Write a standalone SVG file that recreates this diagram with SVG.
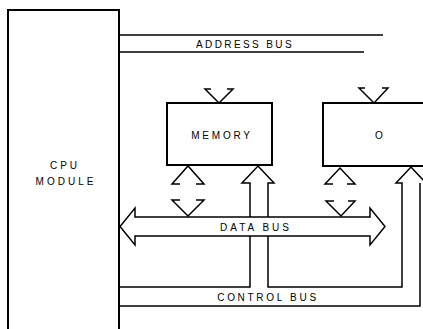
<svg xmlns="http://www.w3.org/2000/svg" width="423" height="329" viewBox="0 0 423 329">
<style>
.ln{fill:none;stroke:#000;stroke-width:1.5;stroke-linejoin:miter}
.bx{fill:none;stroke:#000;stroke-width:2}
.t{font-family:"Liberation Sans",Arial,sans-serif;font-size:10px;fill:#000;text-anchor:middle}
</style>
<rect width="423" height="329" fill="#fff"/>
<g id="cpu">
<path class="bx" d="M8,329 V10 H119 V329"/>
<text class="t" x="65" y="169" letter-spacing="3">CPU</text>
<text class="t" x="66" y="185" letter-spacing="3">MODULE</text>
</g>
<g id="memory">
<rect class="bx" x="167" y="103" width="105" height="62"/>
<text class="t" x="222" y="139" letter-spacing="2.8">MEMORY</text>
</g>
<g id="io">
<path class="bx" d="M424,103 H323 V166 H424"/>
<text class="t" x="379" y="139">O</text>
</g>
<g id="connectors">
<g id="address-bus">
<path class="ln" d="M119,35 H383 M119,52 H364"/>
<text class="t" x="245" y="48" letter-spacing="2.4">ADDRESS BUS</text>
<path class="ln" d="M211,89 H205 L219,103 L233,89 H227"/>
<path class="ln" d="M365,88 H359 L374,103 L388,88 H382"/>
</g>
<g id="data-bus">
<path class="ln" d="M135,217 V208 L120,226.5 L135,245 V236 H370 V245 L385,226.5 L370,208 V217 Z"/>
<text class="t" x="256" y="230.5" letter-spacing="3">DATA BUS</text>
<path class="ln" d="M180,184 H172 L188,166 L204,184 H196"/>
<path class="ln" d="M180,200 H172 L188,216 L204,200 H196"/>
<path class="ln" d="M333,184 H325 L340,168 L355,184 H347"/>
<path class="ln" d="M334,201 H326 L341,216 L355,201 H348"/>
</g>
<g id="control-bus">
<path class="ln" d="M119,287 H250 V236 M250,217 V183 H242 L258,166 L274,183 H268 V217 M268,236 V287 H402 V183 H396 L411,167 L426,183"/>
<path class="ln" d="M119,306 H420 V183"/>
<text class="t" x="268" y="301" letter-spacing="2.7">CONTROL BUS</text>
</g>
</g>
</svg>
